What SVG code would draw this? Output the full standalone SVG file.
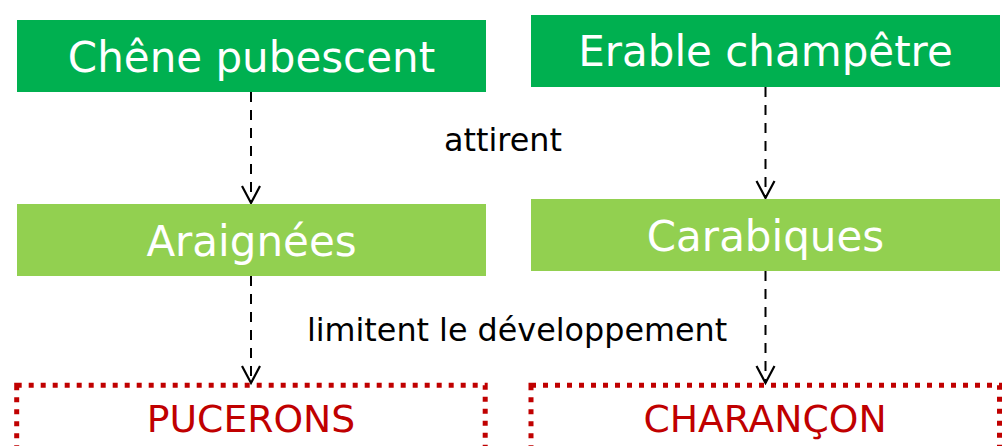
<svg xmlns="http://www.w3.org/2000/svg" width="1003" height="446" viewBox="0 0 1003 446">
<style>
.dark{fill:#00B050}
.light{fill:#92D050}
.wt{fill:#FFFFFF;font-family:"DejaVu Sans",Verdana,sans-serif;font-size:42px;text-anchor:middle}
.red{fill:none;stroke:#C00000;stroke-width:5;stroke-dasharray:5 7}
.rt{fill:#C00000;font-family:"DejaVu Sans",Verdana,sans-serif;font-size:37.7px;text-anchor:middle}
.lbl{fill:#000000;font-family:"DejaVu Sans",Verdana,sans-serif;font-size:31.8px;text-anchor:middle}
.con{fill:none;stroke:#000000;stroke-width:2;stroke-dasharray:10 8;marker-end:url(#arr)}
</style>
<defs>
<marker id="arr" markerUnits="userSpaceOnUse" markerWidth="30" markerHeight="30" refX="0" refY="0" orient="auto" overflow="visible">
<path d="M -17,-9 L 0,0 L -17,9" fill="none" stroke="#000000" stroke-width="2.2"/>
</marker>
</defs>
<rect width="1003" height="446" fill="#FFFFFF"/>
<g id="connectors">
<line class="con" x1="251" y1="92" x2="251" y2="203"/>
<line class="con" x1="765.5" y1="87" x2="765.5" y2="198"/>
<line class="con" x1="251" y1="276" x2="251" y2="383"/>
<line class="con" x1="765.5" y1="271" x2="765.5" y2="383"/>
<text class="lbl" x="503" y="151">attirent</text>
<text class="lbl" x="517" y="341">limitent le développement</text>
</g>
<g id="chene">
<rect class="dark" x="17" y="20" width="469" height="72"/>
<text class="wt" x="251.5" y="72">Chêne pubescent</text>
</g>
<g id="erable">
<rect class="dark" x="531" y="15" width="469" height="72"/>
<text class="wt" x="765.5" y="66">Erable champêtre</text>
</g>
<g id="araignees">
<rect class="light" x="17" y="204" width="469" height="72"/>
<text class="wt" x="251.5" y="256">Araignées</text>
</g>
<g id="carabiques">
<rect class="light" x="531" y="199" width="469" height="72"/>
<text class="wt" x="765.5" y="251">Carabiques</text>
</g>
<g id="pucerons">
<rect class="red" x="16.7" y="385.3" width="468.5" height="80"/>
<text class="rt" x="251" y="432">PUCERONS</text>
</g>
<g id="charancon">
<rect class="red" x="531" y="385.3" width="468.5" height="80"/>
<text class="rt" x="765" y="432">CHARANÇON</text>
</g>
</svg>
